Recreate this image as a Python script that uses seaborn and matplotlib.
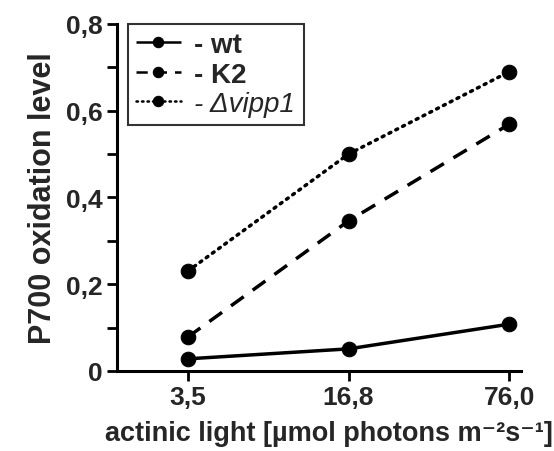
import matplotlib
matplotlib.use("Agg")
import matplotlib.pyplot as plt
import seaborn as sns
import numpy as np
import pandas as pd

# data
light_labels = ["3,5", "16,8", "76,0"]
wt = [0.028, 0.051, 0.108]
k2 = [0.078, 0.346, 0.569]
vipp1 = [0.230, 0.500, 0.690]

series_names = ["- wt", "- K2", "- Δvipp1"]
y_ticks = [0, 0.2, 0.4, 0.6, 0.8]
y_tick_labels = ["0", "0,2", "0,4", "0,6", "0,8"]

sns.set_style("ticks")
plt.rcParams['font.family'] = ['Liberation Sans', 'DejaVu Sans']

df = pd.DataFrame({
    "pos": list(range(3)) * 3,
    "value": wt + k2 + vipp1,
    "line": [series_names[0]] * 3 + [series_names[1]] * 3 + [series_names[2]] * 3,
})

fig = plt.figure(figsize=(5.54, 4.52), dpi=100)
ax = fig.add_axes([0.211, 0.177, 0.729, 0.768])

styles = {series_names[0]: (0, ()),
          series_names[1]: (0, (4.5, 3.2)),
          series_names[2]: (0, (0.6, 1.6))}

for name in series_names:
    sub = df[df["line"] == name]
    sns.lineplot(data=sub, x="pos", y="value", ax=ax, color="black",
                 linewidth=2.5, marker="o", markersize=10.5,
                 markeredgecolor="black", label=name,
                 linestyle=styles[name], dash_capstyle="round" if name == series_names[2] else "butt")

ax.set_xlim(-0.44, 2.07)
ax.set_ylim(0, 0.8)
ax.set_xticks(range(3))
ax.set_xticklabels(light_labels)
ax.set_yticks(y_ticks)
ax.set_yticklabels(y_tick_labels)
ax.set_yticks(np.arange(0.1, 0.8, 0.2), minor=True)

for lab in ax.get_xticklabels() + ax.get_yticklabels():
    lab.set_fontsize(19)
    lab.set_fontweight("bold")

ax.tick_params(axis="both", which="both", width=2, color="black", direction="out")
ax.tick_params(axis="both", which="major", length=7, pad=3)
ax.tick_params(axis="y", which="minor", length=7)

sns.despine(ax=ax)
for s in ["left", "bottom"]:
    ax.spines[s].set_linewidth(2.2)
    ax.spines[s].set_color("black")

ax.set_ylabel("P700 oxidation level", fontsize=22, fontweight="bold", labelpad=6)
ax.set_xlabel("actinic light [µmol photons m⁻²s⁻¹]",
              fontsize=19.5, fontweight="bold")
ax.xaxis.set_label_coords(0.525, -0.14)

leg = ax.legend(loc="upper left", bbox_to_anchor=(0.027, 1.0), frameon=True,
                fancybox=False, edgecolor="black", handlelength=1.6,
                handletextpad=0.5, borderpad=0.3, labelspacing=0.12,
                borderaxespad=0.0, prop={"size": 20, "weight": "bold"})
leg.get_frame().set_linewidth(1.5)
for h in leg.get_lines():
    h.set_markersize(7.5)
    h.set_linewidth(1.8)
vt = leg.get_texts()[2]
vt.set_fontstyle("italic")
vt.set_fontweight("normal")

fig.savefig("out.png", dpi=100)
